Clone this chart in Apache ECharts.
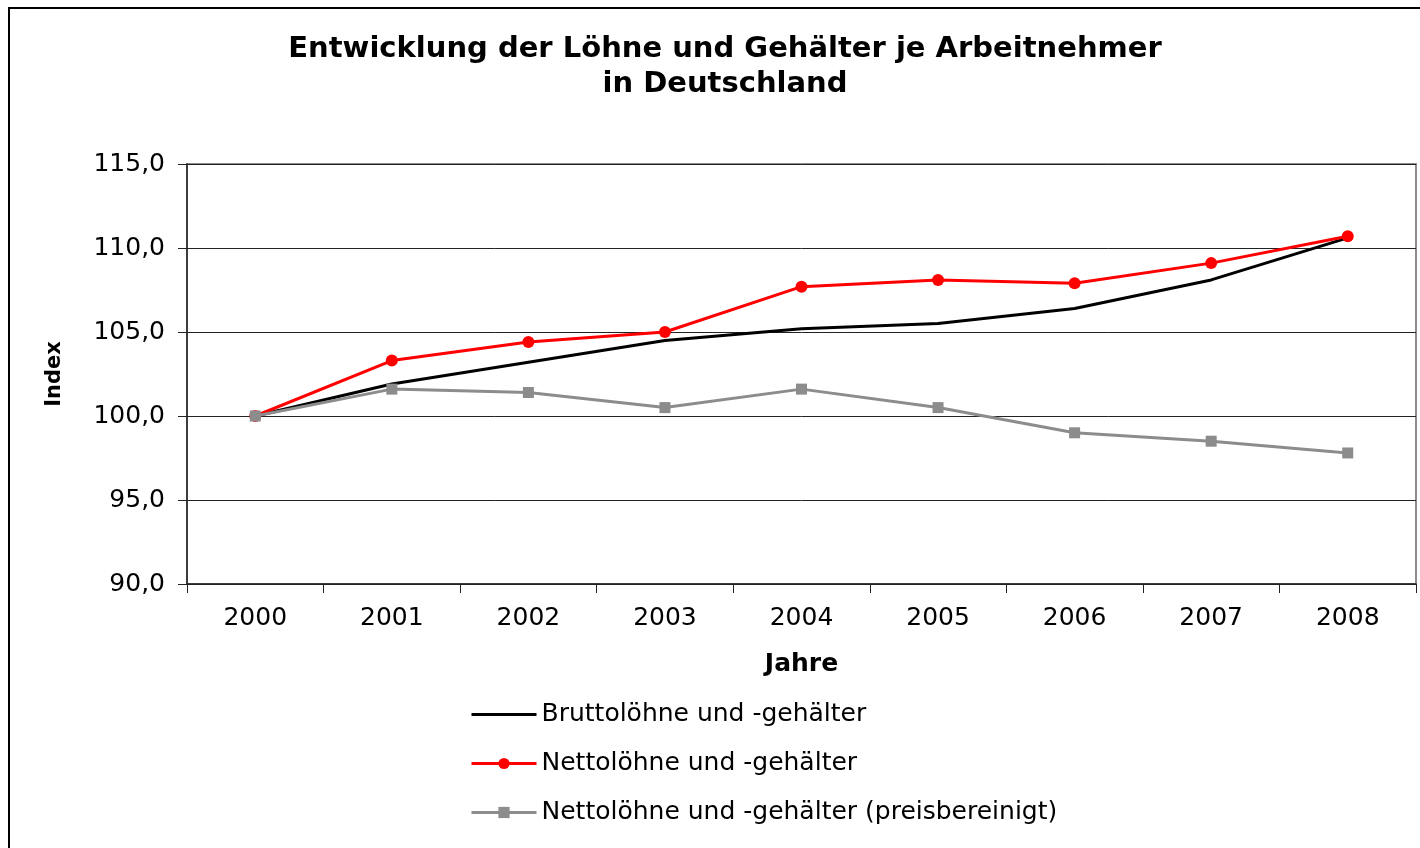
<!DOCTYPE html>
<html>
<head>
<meta charset="utf-8">
<script src="https://cdn.jsdelivr.net/npm/echarts@6/dist/echarts.min.js"></script>
<style>
html,body{margin:0;padding:0;background:#fff;}
#chart{width:1420px;height:848px;}
</style>
</head>
<body>
<div id="chart"></div>
<script>
const years = ['2000','2001','2002','2003','2004','2005','2006','2007','2008'];
const brutto = [100.0, 101.9, 103.2, 104.5, 105.2, 105.5, 106.4, 108.1, 110.6];
const netto = [100.0, 103.3, 104.4, 105.0, 107.7, 108.1, 107.9, 109.1, 110.7];
const nettoReal = [100.0, 101.6, 101.4, 100.5, 101.6, 100.5, 99.0, 98.5, 97.8];
const yTickLabels = ['90,0','95,0','100,0','105,0','110,0','115,0'];
const seriesNames = ['Bruttolöhne und -gehälter','Nettolöhne und -gehälter','Nettolöhne und -gehälter (preisbereinigt)'];

const FONT = 'DejaVu Sans';
const chart = echarts.init(document.getElementById('chart'), null, {renderer:'canvas'});
chart.setOption({
  backgroundColor:'#ffffff',
  animation:false,
  title:{
    text:'Entwicklung der Löhne und Gehälter je Arbeitnehmer\nin Deutschland',
    left:725, top:32, padding:0, textAlign:'center',
    textStyle:{fontFamily:FONT, fontSize:29, fontWeight:'bold', color:'#000', lineHeight:35}
  },
  graphic:[{
    type:'rect', silent:true,
    shape:{x:9, y:8, width:1500, height:1000},
    style:{fill:'none', stroke:'#000', lineWidth:2}
  }],
  legend:{
    orient:'vertical', left:470, top:702, padding:0, itemGap:24,
    itemWidth:65, itemHeight:14,
    lineStyle:{width:3},
    data:[
      {name:seriesNames[0], icon:'path://M0,0L65,0L65,3L0,3Z'},
      {name:seriesNames[1]},
      {name:seriesNames[2]}
    ],
    textStyle:{fontFamily:FONT, fontSize:25, color:'#000', lineHeight:25}
  },
  grid:{left:187, top:164, right:4, bottom:264, show:true, borderColor:'#8c8c8c', borderWidth:2, backgroundColor:'#fff'},
  xAxis:{
    type:'category', data:years, boundaryGap:true,
    name:'Jahre', nameLocation:'middle', nameGap:68,
    nameTextStyle:{fontFamily:FONT, fontSize:25, fontWeight:'bold', color:'#000'},
    axisLine:{lineStyle:{color:'#222', width:1.5}},
    axisTick:{show:true, alignWithLabel:false, length:9, lineStyle:{color:'#222'}},
    axisLabel:{fontFamily:FONT, fontSize:25, color:'#000', margin:22},
    splitLine:{show:false}
  },
  yAxis:{
    type:'value', min:90, max:115, interval:5,
    name:'Index', nameLocation:'middle', nameGap:122,
    nameTextStyle:{fontFamily:FONT, fontSize:21, fontWeight:'bold', color:'#000'},
    axisLine:{show:true, lineStyle:{color:'#222', width:1.5}},
    axisTick:{show:true, length:9, lineStyle:{color:'#222'}},
    axisLabel:{fontFamily:FONT, fontSize:25, color:'#000', margin:22,
      formatter:function(v){ return yTickLabels[Math.round((v-90)/5)]; }},
    splitLine:{show:true, lineStyle:{color:'#222', width:1}}
  },
  series:[
    {name:seriesNames[0], type:'line', data:brutto, symbol:'none', showSymbol:false,
     lineStyle:{color:'#000', width:3}, itemStyle:{color:'#000'}, z:2},
    {name:seriesNames[1], type:'line', data:netto, symbol:'circle', symbolSize:12,
     lineStyle:{color:'#ff0000', width:3}, itemStyle:{color:'#ff0000'}, z:3},
    {name:seriesNames[2], type:'line', data:nettoReal, symbol:'rect', symbolSize:11,
     lineStyle:{color:'#8c8c8c', width:3}, itemStyle:{color:'#8c8c8c'}, z:4}
  ]
});
</script>
</body>
</html>
